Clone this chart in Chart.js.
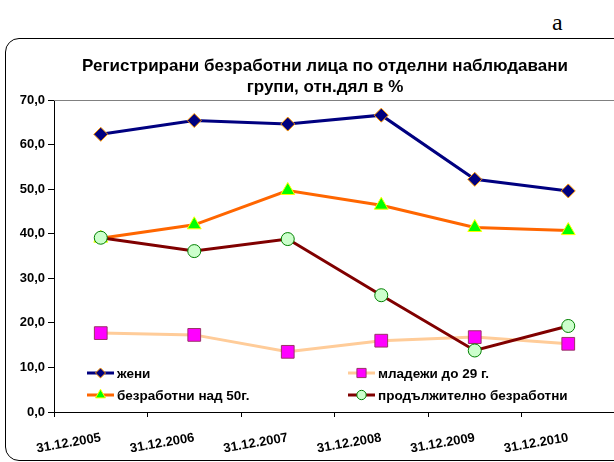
<!DOCTYPE html>
<html><head><meta charset="utf-8">
<script src="https://cdn.jsdelivr.net/npm/chart.js@4.4.0/dist/chart.umd.min.js"></script>
<style>
html,body{margin:0;padding:0;background:#fff;overflow:hidden;}
#wrap{position:relative;width:614px;height:462px;overflow:hidden;}
#frame{position:absolute;left:5px;top:38px;width:700px;height:421px;border:1.5px solid #000;border-radius:14px;}
#a{position:absolute;left:552px;top:9px;font:24px "Liberation Serif",serif;color:#000;}
canvas{position:absolute;left:0;top:0;}
</style></head><body>
<div id="wrap"><div id="a">а</div><div id="frame"></div><canvas id="c" width="625" height="462"></canvas></div>
<script>
const categories = ['31.12.2005','31.12.2006','31.12.2007','31.12.2008','31.12.2009','31.12.2010'];
const seriesNames = ['жени','младежи до 29 г.','безработни над 50г.','продължително безработни'];
const zheni = [62.3, 65.4, 64.6, 66.6, 52.2, 49.6];
const mladezhi = [17.7, 17.3, 13.5, 16.0, 16.8, 15.3];
const nad50 = [39.0, 42.0, 49.7, 46.4, 41.4, 40.7];
const prodalzh = [39.1, 36.1, 38.8, 26.2, 13.8, 19.3];
const yMin = 0, yMax = 70, yStep = 10;
const titleLines = ['Регистрирани безработни лица по отделни наблюдавани','групи, отн.дял в %'];

const FONT = 'Arial, "Liberation Sans", sans-serif';
const datasets = [
  {label: seriesNames[0], data: zheni, borderColor:'#000080', backgroundColor:'#000080',
   pointStyle:'rectRot', pointRadius:7, pointBorderColor:'#FF9900', pointBackgroundColor:'#000080', pointBorderWidth:1, order:4},
  {label: seriesNames[1], data: mladezhi, borderColor:'#FFCC99', backgroundColor:'#FF00FF',
   pointStyle:'rect', pointRadius:9, pointBorderColor:'#993366', pointBackgroundColor:'#FF00FF', pointBorderWidth:1, order:3},
  {label: seriesNames[2], data: nad50, borderColor:'#FF6600', backgroundColor:'#00FF00',
   pointStyle:'triangle', pointRadius:8, pointBorderColor:'#FFFF00', pointBackgroundColor:'#00FF00', pointBorderWidth:1, order:2},
  {label: seriesNames[3], data: prodalzh, borderColor:'#800000', backgroundColor:'#CCFFCC',
   pointStyle:'circle', pointRadius:6.5, pointBorderColor:'#008000', pointBackgroundColor:'#CCFFCC', pointBorderWidth:1, order:1}
];
datasets.forEach(d => { d.borderWidth = 3; d.tension = 0; d.fill = false; d.pointHoverRadius = d.pointRadius; });

const legendPos = [[87,373],[348,373],[87,395],[348,395]];
const legendPlugin = {
  id:'inlegend',
  afterDatasetsDraw(chart){
    const ctx = chart.ctx;
    ctx.save();
    chart.data.datasets.forEach((d,i)=>{
      const [x,y] = legendPos[i];
      ctx.strokeStyle = d.borderColor; ctx.lineWidth = 3;
      ctx.beginPath(); ctx.moveTo(x,y); ctx.lineTo(x+27,y); ctx.stroke();
      ctx.fillStyle = d.pointBackgroundColor; ctx.strokeStyle = d.pointBorderColor; ctx.lineWidth = 1;
      Chart.helpers.drawPoint(ctx, {pointStyle:d.pointStyle, rotation:0, borderWidth:1, radius:d.pointRadius*0.72}, x+13.5, y);
      ctx.fillStyle = '#000'; ctx.font = 'bold 13.5px ' + FONT;
      ctx.textBaseline = 'middle'; ctx.textAlign = 'left';
      ctx.fillText(d.label, x+30, y+1);
    });
    ctx.restore();
  }
};
const titlePlugin = {
  id:'mytitle',
  afterDraw(chart){
    const ctx = chart.ctx;
    ctx.save();
    ctx.fillStyle = '#000'; ctx.font = 'bold 17px ' + FONT;
    ctx.textAlign = 'center'; ctx.textBaseline = 'middle';
    ctx.fillText(titleLines[0], 325, 66);
    ctx.fillText(titleLines[1], 325, 87);
    ctx.restore();
  }
};
const topLinePlugin = {
  id:'topline',
  beforeDatasetsDraw(chart){
    const {ctx, chartArea:a} = chart;
    ctx.save(); ctx.strokeStyle='#808080'; ctx.lineWidth=1;
    ctx.beginPath(); ctx.moveTo(a.left, a.top+0.5); ctx.lineTo(a.right+5, a.top+0.5); ctx.stroke();
    ctx.restore();
  }
};

new Chart(document.getElementById('c'), {
  type:'line',
  data:{labels:categories, datasets},
  plugins:[legendPlugin, titlePlugin, topLinePlugin],
  options:{
    responsive:false, animation:false, devicePixelRatio:1,
    layout:{padding:{left:0, right:0, top:100, bottom:0}},
    plugins:{ legend:{display:false}, tooltip:{enabled:false}, title:{display:false} },
    scales:{
      x:{offset:true,
        grid:{offset:true, drawOnChartArea:false, drawTicks:true, tickLength:5, color:'#000', tickColor:'#000'},
        border:{display:true, color:'#000', width:1},
        ticks:{color:'#000', minRotation:10, maxRotation:10, padding:13,
          font:{family:FONT, size:13, weight:'bold'}},
        afterFit(s){ s.height = 50; s.paddingLeft = 0; s.paddingRight = 0; }
      },
      y:{min:yMin, max:yMax,
        grid:{drawOnChartArea:false, drawTicks:true, tickLength:6, tickColor:'#000'},
        border:{display:true, color:'#000', width:1},
        ticks:{stepSize:yStep, color:'#000', padding:3,
          callback:v => v.toFixed(1).replace('.',','),
          font:{family:FONT, size:13, weight:'bold'}},
        afterFit(s){ s.width = 54; s.paddingTop = 0; s.paddingBottom = 0; }
      }
    }
  }
});
</script></body></html>
